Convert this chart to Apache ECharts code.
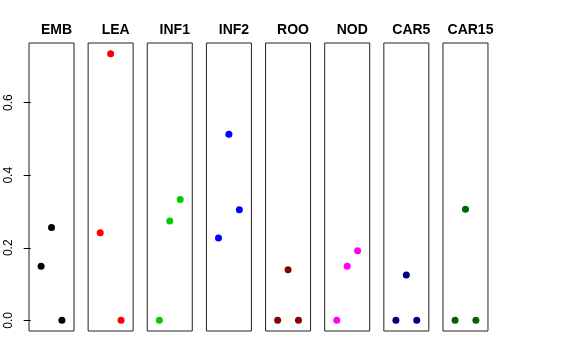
<!DOCTYPE html>
<html>
<head>
<meta charset="utf-8">
<script src="https://cdn.jsdelivr.net/npm/echarts@6/dist/echarts.min.js"></script>
<style>html,body{margin:0;padding:0;background:#fff}#c{width:576px;height:360px}</style>
</head>
<body>
<div id="c"></div>
<script>
const categories = ['EMB', 'LEA', 'INF1', 'INF2', 'ROO', 'NOD', 'CAR5', 'CAR15'];
const xPositions = [1, 2, 3];
const EMB = [0.149, 0.256, 0.0];
const LEA = [0.2415, 0.735, 0.0];
const INF1 = [0.0, 0.274, 0.333];
const INF2 = [0.227, 0.513, 0.305];
const ROO = [0.0, 0.1396, 0.0];
const NOD = [0.0, 0.149, 0.192];
const CAR5 = [0.0, 0.125, 0.0];
const CAR15 = [0.0, 0.306, 0.0];
const seriesValues = [EMB, LEA, INF1, INF2, ROO, NOD, CAR5, CAR15];
const colors = ['#000000', '#FF0000', '#00CD00', '#0000FF', '#8B0000', '#FF00FF', '#000080', '#006400'];
const yTicks = [0, 0.2, 0.4, 0.6];

(function () {
const chart = echarts.init(document.getElementById('c'), null, {renderer: 'canvas'});
const left0 = 29, step = 59.14, pw = 45, ptop = 43, ph = 288;
const yMin = -0.0294, yMax = 0.7644;
const grids = [], xAxes = [], yAxes = [], series = [], titles = [];
categories.forEach((cat, i) => {
  const l = left0 + step * i;
  grids.push({left: l, top: ptop, width: pw, height: ph, show: true, borderColor: '#222', borderWidth: 1, backgroundColor: 'transparent'});
  xAxes.push({type: 'value', gridIndex: i, min: -0.16, max: 4.16, show: false});
  yAxes.push({
    type: 'value', gridIndex: i, min: yMin, max: yMax,
    show: i === 0,
    axisLine: {show: false},
    splitLine: {show: false},
    axisTick: {show: true, length: 7, lineStyle: {color: '#000'}, customValues: yTicks},
    axisLabel: {show: true, rotate: 90, margin: 14, color: '#000', fontSize: 12,
      fontFamily: 'Liberation Sans, Arial, sans-serif',
      customValues: yTicks, formatter: v => v.toFixed(1)}
  });
  series.push({
    type: 'scatter', xAxisIndex: i, yAxisIndex: i, symbol: 'circle', symbolSize: 7,
    itemStyle: {color: colors[i], opacity: 1},
    data: xPositions.map((x, k) => [x, seriesValues[i][k]]),
    animation: false
  });
  titles.push({text: cat, left: l + pw / 2, top: 18, textAlign: 'center',
    textStyle: {fontSize: 14, fontWeight: 'bold', color: '#000', fontFamily: 'Liberation Sans, Arial, sans-serif'}});
});
chart.setOption({animation: false, title: titles, grid: grids, xAxis: xAxes, yAxis: yAxes, series: series});
})();
</script>
</body>
</html>
